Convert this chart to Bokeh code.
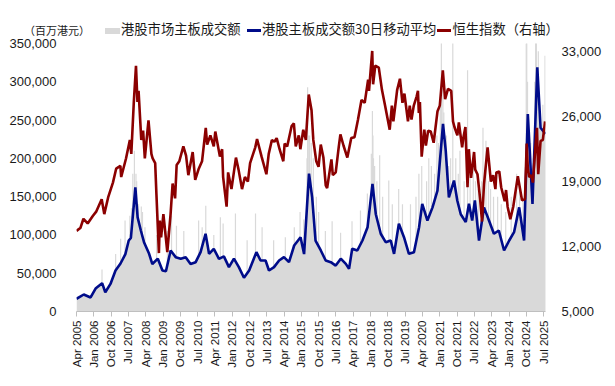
import math
import pandas as pd
from bokeh.plotting import figure
from bokeh.layouts import column
from bokeh.models import (Range1d, LinearAxis, FixedTicker, NumeralTickFormatter,
                          DatetimeTickFormatter, ColumnDataSource, Div)
from bokeh.embed import file_html
from bokeh.resources import INLINE

# 30-day moving average of main-board turnover (HKD mn)
ma_dates = ["2005-04-01", "2005-07-25", "2005-11-10", "2006-01-28", "2006-05-12", "2006-07-01",
            "2006-09-21", "2006-12-10", "2007-02-27", "2007-05-15", "2007-07-07", "2007-08-10",
            "2007-10-20", "2007-11-25", "2008-01-15", "2008-03-05", "2008-05-25", "2008-07-15",
            "2008-10-10", "2008-12-22", "2009-02-15", "2009-05-01", "2009-07-20", "2009-10-08",
            "2009-12-25", "2010-03-12", "2010-06-01", "2010-08-18", "2010-11-05", "2010-12-30",
            "2011-03-15", "2011-06-05", "2011-08-22", "2011-11-10", "2012-01-28", "2012-04-15",
            "2012-07-05", "2012-09-25", "2013-01-18", "2013-03-25", "2013-06-12", "2013-08-05",
            "2013-10-24", "2014-01-12", "2014-03-30", "2014-06-18", "2014-09-08", "2014-12-18",
            "2015-02-12", "2015-05-01", "2015-06-20", "2015-08-12", "2015-11-04", "2016-01-20",
            "2016-04-10", "2016-06-27", "2016-09-15", "2016-12-04", "2017-01-24", "2017-03-15",
            "2017-06-04", "2017-08-24", "2017-11-13", "2018-01-30", "2018-03-24", "2018-06-10",
            "2018-08-27", "2018-11-15", "2019-01-07", "2019-03-24", "2019-06-13", "2019-08-30",
            "2019-11-18", "2020-02-07", "2020-03-28", "2020-06-18", "2020-09-07", "2020-11-24",
            "2021-02-20", "2021-04-04", "2021-05-24", "2021-08-13", "2021-10-04", "2021-11-28",
            "2022-02-15", "2022-04-07", "2022-05-28", "2022-07-10", "2022-09-13", "2022-12-01",
            "2023-02-18", "2023-05-07", "2023-07-24", "2023-10-15", "2024-01-04", "2024-03-21",
            "2024-06-10", "2024-08-27", "2024-10-25", "2025-01-07", "2025-03-24", "2025-05-15",
            "2025-07-31"]
ma_values = [16600, 22200, 18300, 30000, 37000, 25200,
             36000, 53500, 62700, 75000, 92700, 96000,
             162000, 123000, 105800, 90500, 75300, 62000,
             69000, 53500, 52600, 79700, 71000, 69000,
             71000, 62000, 64400, 77500, 101500, 75300,
             81900, 68800, 72000, 58000, 69000, 58000,
             44000, 53500, 77500, 66600, 66600, 53500,
             58000, 66600, 71000, 64400, 86200, 97000,
             75000, 180000, 149000, 92700, 79700, 66600,
             64400, 60000, 69000, 62200, 55700, 82000,
             79700, 92700, 110000, 166800, 127000, 101500,
             90500, 92700, 75300, 114600, 97000, 75300,
             77500, 110000, 140600, 118800, 136000, 158000,
             245000, 210000, 149000, 171000, 145000, 127000,
             116700, 140600, 118800, 145000, 92700, 136000,
             118800, 101500, 105800, 79700, 92700, 103600,
             136000, 92700, 258000, 140600, 319000, 240000,
             232000]

# single-day turnover peaks (HKD mn)
spike_dates = ["2006-05-10", "2006-12-12", "2007-03-01", "2007-05-10", "2007-07-25", "2007-08-20",
               "2007-09-10", "2007-10-05", "2007-10-30", "2007-11-10", "2007-12-10", "2008-01-22",
               "2008-02-10", "2008-03-20", "2008-09-20", "2009-03-10", "2009-05-15", "2009-08-01",
               "2009-11-25", "2010-07-18", "2010-09-12", "2010-11-08", "2011-03-15", "2011-06-27",
               "2011-08-10", "2012-02-21", "2012-08-24", "2013-01-04", "2013-04-18", "2013-10-18",
               "2014-04-21", "2014-09-10", "2014-12-10", "2015-02-06", "2015-03-30", "2015-04-09",
               "2015-04-27", "2015-05-10", "2015-06-05", "2015-07-08", "2015-08-25", "2015-10-01",
               "2016-01-15", "2016-05-01", "2016-09-12", "2017-03-12", "2017-07-24", "2017-11-10",
               "2018-01-12", "2018-01-29", "2018-02-06", "2018-02-15", "2018-03-05", "2018-04-10",
               "2018-05-24", "2018-07-10", "2018-10-15", "2018-12-10", "2019-03-21", "2019-05-20",
               "2019-09-24", "2019-12-20", "2020-02-04", "2020-03-20", "2020-06-05", "2020-07-10",
               "2020-08-20", "2020-10-10", "2020-11-15", "2020-12-10", "2021-01-08", "2021-01-25",
               "2021-02-18", "2021-03-05", "2021-04-15", "2021-05-20", "2021-06-20", "2021-07-25",
               "2021-09-10", "2021-10-20", "2021-11-15", "2022-01-20", "2022-03-16", "2022-04-25",
               "2022-06-15", "2022-07-20", "2022-09-01", "2022-10-25", "2022-11-15", "2023-01-01",
               "2023-02-10", "2023-03-15", "2023-05-01", "2023-07-05", "2023-09-01", "2023-11-10",
               "2024-02-05", "2024-05-01", "2024-06-15", "2024-08-10", "2024-09-30", "2024-10-08",
               "2024-10-20", "2024-11-20", "2024-12-10", "2025-01-20", "2025-02-10", "2025-02-25",
               "2025-03-10", "2025-03-25", "2025-04-09", "2025-05-10", "2025-06-20", "2025-07-25"]
spike_values = [55000, 75000, 95000, 119000, 125000, 135000,
                180000, 210000, 180000, 170000, 140000, 137000,
                130000, 110000, 100000, 105000, 125000, 112000,
                105000, 119000, 110000, 138000, 100000, 123000,
                115000, 128000, 93000, 128000, 110000, 93000,
                97000, 110000, 130000, 120000, 200000, 293000,
                230000, 230000, 220000, 200000, 150000, 130000,
                105000, 118000, 103000, 118000, 132000, 154000,
                206000, 262000, 230000, 200000, 190000, 170000,
                204000, 150000, 171000, 140000, 160000, 140000,
                140000, 150000, 180000, 190000, 170000, 200000,
                190000, 180000, 230000, 220000, 280000, 360000,
                300000, 260000, 230000, 190000, 200000, 360000,
                200000, 180000, 210000, 170000, 315000, 180000,
                200000, 170000, 160000, 170000, 240000, 223000,
                170000, 160000, 150000, 150000, 140000, 130000,
                150000, 180000, 170000, 150000, 350000, 360000,
                300000, 200000, 220000, 200000, 300000, 360000,
                360000, 280000, 340000, 260000, 270000, 334000]

# Hang Seng Index (right axis)
hsi_dates = ["2005-04-01", "2005-06-01", "2005-07-20", "2005-09-25", "2005-12-15", "2006-02-10",
             "2006-05-05", "2006-06-15", "2006-08-15", "2006-10-30", "2006-12-20", "2007-02-25",
             "2007-03-10", "2007-05-25", "2007-07-25", "2007-08-17", "2007-09-25", "2007-10-30",
             "2007-11-22", "2007-12-10", "2008-01-22", "2008-02-20", "2008-03-18", "2008-05-15",
             "2008-06-30", "2008-07-20", "2008-08-29", "2008-09-18", "2008-10-27", "2008-11-10",
             "2008-12-01", "2009-01-06", "2009-03-09", "2009-04-30", "2009-06-01", "2009-07-10",
             "2009-08-04", "2009-09-15", "2009-11-18", "2009-12-31", "2010-02-05", "2010-04-15",
             "2010-05-25", "2010-07-20", "2010-09-10", "2010-11-08", "2010-11-30", "2011-01-20",
             "2011-03-15", "2011-04-08", "2011-06-20", "2011-07-25", "2011-08-10", "2011-10-04",
             "2011-10-28", "2011-12-20", "2012-02-29", "2012-04-10", "2012-06-04", "2012-07-20",
             "2012-09-05", "2012-10-10", "2012-12-31", "2013-01-28", "2013-04-10", "2013-06-25",
             "2013-08-01", "2013-09-20", "2013-10-30", "2013-12-05", "2014-01-20", "2014-03-20",
             "2014-04-10", "2014-05-20", "2014-07-30", "2014-09-03", "2014-10-03", "2014-11-20",
             "2014-12-15", "2015-01-30", "2015-03-12", "2015-04-27", "2015-06-10", "2015-07-08",
             "2015-08-24", "2015-09-29", "2015-11-03", "2015-12-15", "2016-01-21", "2016-02-12",
             "2016-04-20", "2016-05-12", "2016-06-27", "2016-08-15", "2016-09-09", "2016-10-28",
             "2016-12-28", "2017-02-28", "2017-04-20", "2017-06-15", "2017-08-09", "2017-09-29",
             "2017-11-22", "2017-12-06", "2018-01-26", "2018-02-09", "2018-03-15", "2018-05-10",
             "2018-06-29", "2018-08-15", "2018-09-12", "2018-10-30", "2018-12-03", "2018-12-27",
             "2019-02-25", "2019-04-10", "2019-05-20", "2019-06-20", "2019-08-15", "2019-09-12",
             "2019-10-10", "2019-11-15", "2019-12-31", "2020-01-20", "2020-02-03", "2020-02-20",
             "2020-03-19", "2020-04-30", "2020-05-25", "2020-06-30", "2020-08-10", "2020-09-25",
             "2020-11-25", "2020-12-31", "2021-02-17", "2021-03-25", "2021-05-10", "2021-06-30",
             "2021-07-28", "2021-08-20", "2021-10-05", "2021-10-29", "2021-12-20", "2022-01-10",
             "2022-02-10", "2022-03-15", "2022-04-05", "2022-05-10", "2022-06-27", "2022-07-15",
             "2022-08-20", "2022-09-30", "2022-10-31", "2022-12-01", "2023-01-27", "2023-03-20",
             "2023-04-25", "2023-05-31", "2023-06-15", "2023-07-31", "2023-08-30", "2023-10-25",
             "2023-11-15", "2023-12-10", "2024-01-22", "2024-03-08", "2024-05-20", "2024-07-25",
             "2024-09-10", "2024-10-07", "2024-10-25", "2024-11-15", "2024-12-20", "2025-01-13",
             "2025-02-28", "2025-03-19", "2025-04-08", "2025-05-15", "2025-06-20", "2025-07-25"]
hsi_values = [13700, 14000, 15000, 14500, 15300, 15800,
              17100, 15500, 17300, 18900, 20400, 20700,
              19500, 21500, 23500, 22000, 27500, 31500,
              27600, 28800, 23500, 24500, 21500, 25600,
              22000, 21500, 21000, 17600, 11300, 14800,
              13000, 15500, 11400, 15500, 18800, 17200,
              20800, 21200, 22800, 21800, 19700, 22200,
              19200, 20400, 21200, 24800, 23000, 24000,
              22800, 24400, 21700, 22500, 19500, 16300,
              20000, 18200, 21600, 20300, 18200, 19500,
              19000, 21000, 22700, 23600, 21700, 19800,
              22000, 23500, 23300, 23700, 22500, 21200,
              23100, 22800, 25000, 25300, 22800, 24000,
              22500, 24600, 23500, 28400, 26700, 23500,
              21200, 20600, 23000, 21600, 18600, 18300,
              21400, 19700, 20000, 22800, 24100, 22900,
              21600, 23700, 23800, 25700, 27800, 27500,
              30000, 28800, 33100, 29500, 31500, 31300,
              28900, 27300, 26300, 24600, 27200, 25500,
              28900, 30100, 27500, 28500, 25500, 27200,
              25700, 27200, 28200, 28800, 26400, 27600,
              21700, 24600, 22900, 24500, 24400, 23200,
              26600, 27200, 31000, 27900, 29000, 28800,
              25500, 24900, 24000, 25400, 22700, 23800,
              24900, 18400, 22500, 19400, 22200, 20300,
              19800, 17200, 14700, 18700, 22700, 19000,
              19700, 18200, 20000, 20100, 18400, 16900,
              18100, 16300, 14960, 16300, 19600, 17000,
              17100, 23100, 20500, 19500, 19700, 18900,
              23300, 24800, 19800, 23400, 23500, 25500]

x_tick_labels = ["Apr 2005", "Jan 2006", "Oct 2006", "Jul 2007", "Apr 2008", "Jan 2009", "Oct 2009",
                 "Jul 2010", "Apr 2011", "Jan 2012", "Oct 2012", "Jul 2013", "Apr 2014", "Jan 2015",
                 "Oct 2015", "Jul 2016", "Apr 2017", "Jan 2018", "Oct 2018", "Jul 2019", "Apr 2020",
                 "Jan 2021", "Oct 2021", "Jul 2022", "Apr 2023", "Jan 2024", "Oct 2024", "Jul 2025"]
left_ticks = [0, 50000, 100000, 150000, 200000, 250000, 300000, 350000]
right_ticks = [5000, 12000, 19000, 26000, 33000]

legend_labels = ["港股市场主板成交额", "港股主板成交额30日移动平均", "恒生指数（右轴）"]
unit_label = "（百万港元）"

GRAY = "#d9d9d9"
BLUE = "#000c8a"
RED = "#8b0000"
FONT = "Liberation Sans"
CJK = "Noto Sans CJK SC"
TXT = "#1a1a1a"

W = 613
HEAD_H = 37
TOTAL_H = 385

# ---------------- header: unit note + legend ----------------
def span(style, content=""):
    return f'<span style="position:absolute;white-space:nowrap;{style}">{content}</span>'

txt_style = f"font-family:'{CJK}';font-size:13.3px;line-height:16px;color:{TXT};top:20.7px;"
header_html = (
    f'<div style="position:relative;width:{W}px;height:{HEAD_H}px;">'
    + span(f"font-family:'{CJK}';font-size:11px;line-height:14px;color:{TXT};left:24px;top:23px;", unit_label)
    + span(f"left:105px;top:27.7px;width:15px;height:6px;background:{GRAY};")
    + span(txt_style + "left:121px;", legend_labels[0])
    + span(f"left:246.7px;top:28.5px;width:14px;height:3px;background:{BLUE};")
    + span(txt_style + "left:262px;", legend_labels[1])
    + span(f"left:436.7px;top:28.5px;width:14px;height:3px;background:{RED};")
    + span(txt_style + "left:452.5px;", legend_labels[2])
    + '</div>'
)
header = Div(text=header_html, width=W, height=HEAD_H, margin=(0, 0, 0, 0))

# ---------------- main chart ----------------
ma_src = ColumnDataSource(dict(x=pd.to_datetime(ma_dates), y=ma_values))
sp_src = ColumnDataSource(dict(x=pd.to_datetime(spike_dates), y=spike_values))
hsi_src = ColumnDataSource(dict(x=pd.to_datetime(hsi_dates), y=hsi_values))

p = figure(width=W, height=TOTAL_H - HEAD_H, x_axis_type="datetime",
           x_range=Range1d(pd.Timestamp("2005-04-01"), pd.Timestamp("2025-08-01")),
           y_range=Range1d(0, 350000),
           output_backend="svg", toolbar_location=None,
           min_border_left=76, min_border_right=68, min_border_top=6, min_border_bottom=74,
           margin=(0, 0, 0, 0))
p.outline_line_color = None
p.xgrid.grid_line_color = None
p.ygrid.grid_line_color = None
p.extra_y_ranges = {"hsi": Range1d(5000, 33900)}

p.segment(x0="x", y0=0, x1="x", y1="y", source=sp_src, line_color=GRAY, line_width=1.2)
p.varea(x="x", y1=0, y2="y", source=ma_src, fill_color=GRAY)
p.line(x="x", y="y", source=ma_src, line_color=BLUE, line_width=2.6)
p.line(x="x", y="y", source=hsi_src, line_color=RED, line_width=2.6, y_range_name="hsi")

xa = p.xaxis[0]
xa.ticker = FixedTicker(ticks=[pd.to_datetime(t, format="%b %Y").value / 1e6 for t in x_tick_labels])
fmt = "%b %Y"
xa.formatter = DatetimeTickFormatter(microseconds=fmt, milliseconds=fmt, seconds=fmt, minsec=fmt,
                                     minutes=fmt, hourmin=fmt, hours=fmt, days=fmt, months=fmt, years=fmt)
xa.major_label_orientation = math.pi / 2
xa.axis_line_color = "#bfbfbf"
xa.major_tick_line_color = "#bfbfbf"
xa.major_tick_out = 5
xa.major_tick_in = 0
xa.minor_tick_line_color = None
xa.major_label_standoff = 4
xa.major_label_text_font = FONT
xa.major_label_text_font_size = "11.5px"
xa.major_label_text_color = TXT

ya = p.yaxis[0]
ya.ticker = FixedTicker(ticks=left_ticks)
ya.formatter = NumeralTickFormatter(format="0,0")
ya.axis_line_color = None
ya.major_tick_line_color = None
ya.minor_tick_line_color = None
ya.major_label_standoff = 14
ya.major_label_text_font = FONT
ya.major_label_text_font_size = "13px"
ya.major_label_text_color = TXT

ra = LinearAxis(y_range_name="hsi", ticker=FixedTicker(ticks=right_ticks),
                formatter=NumeralTickFormatter(format="0,0"))
ra.axis_line_color = None
ra.major_tick_line_color = None
ra.minor_tick_line_color = None
ra.major_label_standoff = 10
ra.major_label_text_font = FONT
ra.major_label_text_font_size = "13px"
ra.major_label_text_color = TXT
p.add_layout(ra, "right")

layout = column(header, p, spacing=0)
open("out.html", "w").write(file_html(layout, INLINE))
